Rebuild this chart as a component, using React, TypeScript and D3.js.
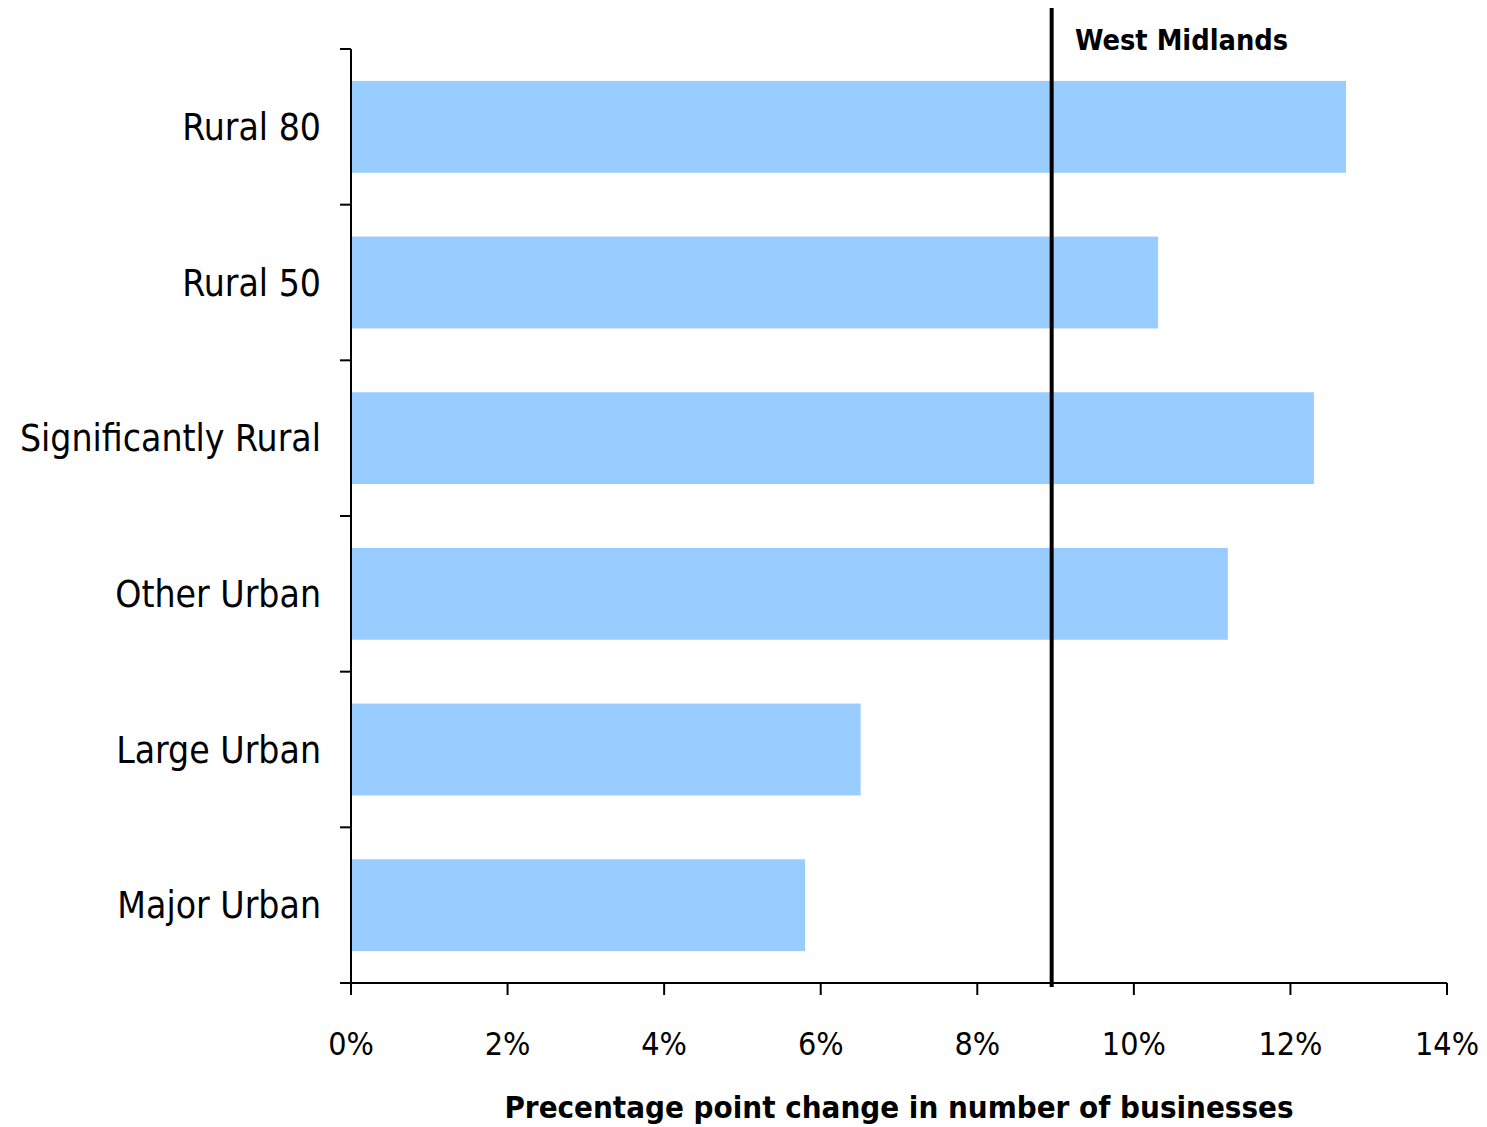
import React from "react";
import * as d3 from "d3";

const categories = ["Rural 80", "Rural 50", "Significantly Rural", "Other Urban", "Large Urban", "Major Urban"];
const values = [12.71, 10.31, 12.3, 11.2, 6.51, 5.8];
const xTicks = [0, 2, 4, 6, 8, 10, 12, 14];
const referenceValue = 8.95;
const referenceLabel = "West Midlands";
const xTitle = "Precentage point change in number of businesses";

const FONT = "'DejaVu Sans Condensed', 'DejaVu Sans', sans-serif";

export default function App() {
  const W = 1487, H = 1127;
  const left = 351, right = 1447, top = 49, bottom = 983;
  const x = d3.scaleLinear().domain([0, 14]).range([left, right]);
  const y = d3.scaleBand<string>().domain(categories).range([top, bottom]).paddingInner(0.41).paddingOuter(0.205);
  const band = (bottom - top) / categories.length;
  const yTickPos = d3.range(categories.length + 1).map((i) => top + i * band);

  return (
    <svg width={W} height={H} style={{ position: "absolute", left: 0, top: 0 }}>
      <rect width={W} height={H} fill="#fff" />
      {categories.map((c, i) => (
        <rect key={c} x={x(0)} y={y(c)} width={x(values[i]) - x(0)} height={y.bandwidth()} fill="#99ccff" />
      ))}
      {/* y axis */}
      <line x1={left} x2={left} y1={top} y2={bottom + 12} stroke="#000" strokeWidth={2} />
      {yTickPos.map((p, i) => (
        <line key={i} x1={left - 11} x2={left} y1={p} y2={p} stroke="#000" strokeWidth={2} />
      ))}
      {/* x axis */}
      <line x1={left - 11} x2={right} y1={bottom} y2={bottom} stroke="#000" strokeWidth={2} />
      {xTicks.map((t) => (
        <g key={t}>
          <line x1={x(t)} x2={x(t)} y1={bottom} y2={bottom + 12} stroke="#000" strokeWidth={2} />
          <text x={x(t)} y={1055} textAnchor="middle" fontFamily={FONT} fontSize={32} fill="#000">{t}%</text>
        </g>
      ))}
      {categories.map((c) => (
        <text key={c} x={321} y={(y(c) as number) + y.bandwidth() / 2 + 13} textAnchor="end" fontFamily={FONT} fontSize={37} fill="#000">{c}</text>
      ))}
      {/* reference line */}
      <line x1={x(referenceValue)} x2={x(referenceValue)} y1={8} y2={987} stroke="#000" strokeWidth={4} />
      <text x={1075} y={50} fontFamily={FONT} fontWeight="bold" fontSize={28.7} fill="#000">{referenceLabel}</text>
      <text x={(left + right) / 2} y={1118} textAnchor="middle" fontFamily={FONT} fontWeight="bold" fontSize={31} fill="#000">{xTitle}</text>
    </svg>
  );
}
